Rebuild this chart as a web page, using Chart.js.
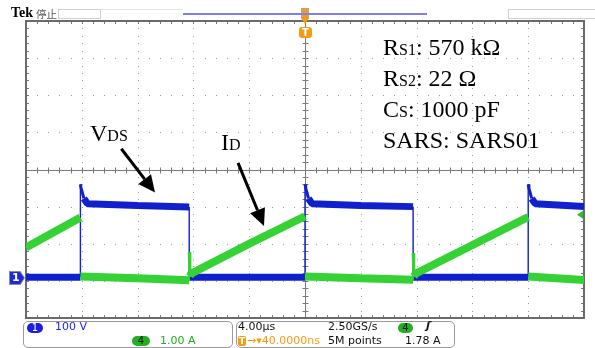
<!DOCTYPE html>
<html><head><meta charset="utf-8">
<script src="https://cdn.jsdelivr.net/npm/chart.js@4/dist/chart.umd.min.js"></script>
<style>
html,body{margin:0;padding:0;background:#fff;}
#wrap{position:relative;width:595px;height:348px;overflow:hidden;background:#fff;}
canvas{position:absolute;left:0;top:0;}
.t{position:absolute;white-space:nowrap;}
.serif{font-family:"Liberation Serif","Times New Roman",serif;color:#000;font-size:24px;line-height:28px;}
.sub{font-size:16px;}
.osc{font-family:"DejaVu Sans",sans-serif;font-size:11px;line-height:12px;color:#111;}
.box{position:absolute;border:1px solid #9a9a9a;border-radius:5px;box-sizing:border-box;}
.pill{position:absolute;border-radius:6px;text-align:center;font-family:"DejaVu Sans",sans-serif;font-size:10px;line-height:10px;}
</style></head>
<body>
<div id="wrap">
<canvas id="c" width="595" height="348"></canvas>

<!-- header -->
<div class="t" style="left:11px;top:5px;font-family:'Liberation Serif',serif;font-weight:bold;font-size:14px;line-height:16px;">Tek</div>
<div class="t" style="left:36px;top:7px;font-family:'Noto Sans CJK SC',sans-serif;font-size:10.5px;line-height:13px;color:#555;">停止</div>
<div style="position:absolute;left:58px;top:9px;width:43px;height:10px;border:1px solid #d0d0d0;box-sizing:border-box;"></div>
<div style="position:absolute;left:101px;top:9px;width:82px;height:10px;border-top:1px solid #e4e4e4;box-sizing:border-box;"></div>
<div style="position:absolute;left:508px;top:9px;width:95px;height:10px;border:1px solid #d0d0d0;box-sizing:border-box;"></div>
<div style="position:absolute;left:183px;top:13px;width:244px;height:2px;background:#7f80ee;"></div>

<!-- trigger T marker -->
<div class="t" style="left:299px;top:27px;width:13px;height:11px;background:#f59b12;border-radius:3px;color:#fff;font:bold 10px/11px 'DejaVu Sans',sans-serif;text-align:center;">T</div>

<!-- channel 1 ground marker -->
<div class="t" style="left:9px;top:271px;width:16px;height:14px;background:#8a8aa0;clip-path:polygon(0 0,72% 0,100% 50%,72% 100%,0 100%);"></div>
<div class="t" style="left:10px;top:272px;width:14px;height:12px;background:#1c2ad8;clip-path:polygon(0 0,70% 0,100% 50%,70% 100%,0 100%);color:#fff;font:bold 11px/12px 'DejaVu Sans',sans-serif;text-indent:2px;">1</div>

<!-- parameter annotation -->
<div class="t serif" style="left:383px;top:33px;">
R<span class="sub">S1</span>: 570 kΩ<br>
R<span class="sub">S2</span>: 22 Ω<br>
C<span class="sub">S</span>: 1000 pF<br>
SARS: SARS01
</div>
<div class="t serif" style="left:90px;top:119px;">V<span class="sub">DS</span></div>
<div class="t serif" style="left:221px;top:128px;">I<span class="sub">D</span></div>

<!-- status bar -->
<div class="box" style="left:23px;top:321px;width:210px;height:27px;"></div>
<div class="box" style="left:236px;top:321px;width:219px;height:27px;"></div>
<div class="pill" style="left:27px;top:323px;width:16px;height:10px;background:#1c1ce0;color:#fff;">1</div>
<div class="t osc" style="left:55px;top:321px;color:#2424ee;">100 V</div>
<div class="pill" style="left:132px;top:336px;width:18px;height:10px;background:#22b022;color:#111;">4</div>
<div class="t osc" style="left:160px;top:335px;color:#1fae1f;">1.00 A</div>
<div class="t osc" style="left:238px;top:321px;">4.00µs</div>
<div class="t osc" style="left:328px;top:321px;">2.50GS/s</div>
<div class="pill" style="left:398px;top:323px;width:15px;height:10px;background:#22b022;color:#111;">4</div>
<div class="t osc" style="left:426px;top:320px;font-weight:bold;font-style:italic;">ʃ</div>
<div class="t" style="left:238px;top:336px;width:8px;height:10px;background:#f59b12;border-radius:2px;color:#fff;font:bold 9px/10px 'DejaVu Sans',sans-serif;text-align:center;">T</div>
<div class="t osc" style="left:247px;top:335px;color:#f59b12;">→▾40.0000ns</div>
<div class="t osc" style="left:328px;top:335px;">5M points</div>
<div class="t osc" style="left:405px;top:335px;">1.78 A</div>
</div>

<script>
// ---- scope settings ----
const TIME_PER_DIV_US = 4;      // 4.00 µs/div
const CH1_VOLTS_PER_DIV = 100;  // 100 V/div
const CH1_OFFSET_DIV = -2.9;    // CH1 ground marker position
const CH4_AMPS_PER_DIV = 1;     // 1.00 A/div
const CH4_OFFSET_DIV = -3.0;
const TRIGGER_LEVEL_A = 1.78;

// ---- CH1: V_DS (V) ----
const vdsTime  = [-20, -16.1, -16.1, -16.05, -15.85, -15.6, -12, -8.3, -8.3, -4, 0, 0, 0.05, 0.25, 0.5, 4, 7.75, 7.75, 12, 16.0, 16.0, 16.05, 16.25, 16.5, 20];
const vdsVolts = [0, 0, 250, 240, 212, 198, 193, 189, 0, 0, 0, 250, 240, 212, 198, 193, 190, 0, 0, 0, 250, 240, 212, 198, 190];

// ---- CH4: I_D (A) ----
const idTime = [-20, -16.1, -16.1, -12, -8.3, -8.3, -8.25, -8.15, -4, 0, 0, 4, 7.75, 7.75, 7.8, 7.95, 16.0, 16.0, 20];
const idAmps = [0.90, 1.71, 0.12, 0.07, 0.02, 0.78, 0.12, 0.20, 1.0, 1.74, 0.12, 0.07, 0.03, 0.75, 0.12, 0.20, 1.72, 0.12, 0.02];

const toXY = (xs, ys) => xs.map((x, i) => ({x, y: ys[i]}));
// steep edges are thin, noisy flat/ramp parts are a thick band
const bandWidth = w => c => {
  const dx = Math.abs(c.p1.x - c.p0.x), dy = Math.abs(c.p1.y - c.p0.y);
  if (dx < 0.01) return 1.4;
  return dy / dx > 3 ? 3 : w;
};
// falling current edges are hidden behind the V_DS edge
const idEdgeColor = base => c =>
  (Math.abs(c.p1.x - c.p0.x) < 0.01 && c.p1.y > c.p0.y) ? 'rgba(0,0,0,0)' : base;

const graticule = {
  id: 'graticule',
  beforeDatasetsDraw(chart) {
    const {ctx, chartArea: a} = chart;
    const dx = (a.right - a.left) / 10, dy = (a.bottom - a.top) / 8;
    ctx.save();
    ctx.fillStyle = '#9c9c9c';
    for (let i = 1; i < 10; i++) {
      if (i === 5) continue;
      const x = Math.round(a.left + i * dx);
      for (let k = 1; k < 40; k++) ctx.fillRect(x, Math.round(a.top + k * dy / 5), 1, 1);
    }
    for (let j = 1; j < 8; j++) {
      if (j === 4) continue;
      const y = Math.round(a.top + j * dy);
      for (let k = 1; k < 50; k++) ctx.fillRect(Math.round(a.left + k * dx / 5), y, 1, 1);
    }
    const cx = Math.round((a.left + a.right) / 2) + 0.5, cy = Math.round((a.top + a.bottom) / 2) + 0.5;
    ctx.strokeStyle = '#7a7a7a';
    ctx.lineWidth = 1;
    ctx.beginPath();
    ctx.moveTo(a.left, cy); ctx.lineTo(a.right, cy);
    ctx.moveTo(cx, a.top); ctx.lineTo(cx, a.bottom);
    for (let k = 1; k < 50; k++) {
      const x = Math.round(a.left + k * dx / 5) + 0.5;
      ctx.moveTo(x, cy - 3); ctx.lineTo(x, cy + 3);
      ctx.moveTo(x, a.top); ctx.lineTo(x, a.top + 3);
      ctx.moveTo(x, a.bottom); ctx.lineTo(x, a.bottom - 3);
    }
    for (let k = 1; k < 40; k++) {
      const y = Math.round(a.top + k * dy / 5) + 0.5;
      ctx.moveTo(cx - 3, y); ctx.lineTo(cx + 3, y);
      ctx.moveTo(a.left, y); ctx.lineTo(a.left + 3, y);
      ctx.moveTo(a.right, y); ctx.lineTo(a.right - 3, y);
    }
    ctx.stroke();
    ctx.strokeStyle = '#6a6a6a';
    ctx.lineWidth = 2;
    ctx.strokeRect(a.left, a.top, a.right - a.left, a.bottom - a.top);
    ctx.restore();
  },
  afterDatasetsDraw(chart) {
    const {ctx} = chart;
    const xs = chart.scales.x, yd = chart.scales.yDiv, ya = chart.scales.yA;
    const arrow = (t0, d0, t1, d1) => {
      const x0 = xs.getPixelForValue(t0), y0 = yd.getPixelForValue(d0);
      const x1 = xs.getPixelForValue(t1), y1 = yd.getPixelForValue(d1);
      const ang = Math.atan2(y1 - y0, x1 - x0), L = 17, W = 8;
      const bx = x1 - L * Math.cos(ang), by = y1 - L * Math.sin(ang);
      ctx.save();
      ctx.strokeStyle = '#000'; ctx.fillStyle = '#000'; ctx.lineWidth = 3;
      ctx.beginPath(); ctx.moveTo(x0, y0); ctx.lineTo(bx, by); ctx.stroke();
      ctx.beginPath();
      ctx.moveTo(x1, y1);
      ctx.lineTo(bx + W * Math.sin(ang), by - W * Math.cos(ang));
      ctx.lineTo(bx - W * Math.sin(ang), by + W * Math.cos(ang));
      ctx.closePath(); ctx.fill();
      ctx.restore();
    };
    arrow(-13.17, 0.56, -10.75, -0.62);   // V_DS label arrow
    arrow(-4.8, 0.18, -2.94, -1.52);      // I_D label arrow
    // trigger level marker (CH4)
    const a = chart.chartArea;
    const ty = ya.getPixelForValue(TRIGGER_LEVEL_A);
    ctx.save();
    ctx.fillStyle = '#2cc02c';
    ctx.beginPath();
    ctx.moveTo(a.right - 7, ty); ctx.lineTo(a.right - 1, ty - 4); ctx.lineTo(a.right - 1, ty + 4);
    ctx.closePath(); ctx.fill();
    // trigger position marker at top
    const tx = Math.round(xs.getPixelForValue(0));
    ctx.fillStyle = '#c9a070';
    ctx.fillRect(tx - 4, 8, 8, 11);
    ctx.fillStyle = '#f59b12';
    ctx.fillRect(tx - 2, 9, 4, 9);
    ctx.beginPath();
    ctx.moveTo(tx - 4, 18); ctx.lineTo(tx + 4, 18); ctx.lineTo(tx, 24); ctx.closePath(); ctx.fill();
    ctx.restore();
  }
};

new Chart(document.getElementById('c'), {
  type: 'line',
  data: {
    datasets: [
      {
        label: 'I_D',
        data: toXY(idTime, idAmps),
        yAxisID: 'yA',
        borderColor: '#34d234',
        borderWidth: 8,
        segment: {borderWidth: bandWidth(8), borderColor: idEdgeColor('#34d234')},
        borderJoinStyle: 'bevel',
        pointRadius: 0,
        tension: 0,
        order: 0
      },
      {
        label: 'V_DS',
        data: toXY(vdsTime, vdsVolts),
        yAxisID: 'yV',
        borderColor: '#1020cc',
        borderWidth: 7,
        segment: {borderWidth: bandWidth(7)},
        borderJoinStyle: 'bevel',
        pointRadius: 0,
        tension: 0,
        order: 1
      }
    ]
  },
  options: {
    responsive: false,
    animation: false,
    events: [],
    layout: {padding: {left: 26, top: 21, right: 11, bottom: 30}},
    plugins: {legend: {display: false}, tooltip: {enabled: false}},
    scales: {
      x: {type: 'linear', display: false, min: -5 * TIME_PER_DIV_US, max: 5 * TIME_PER_DIV_US},
      yV: {type: 'linear', display: false,
           min: (-4 - CH1_OFFSET_DIV) * CH1_VOLTS_PER_DIV, max: (4 - CH1_OFFSET_DIV) * CH1_VOLTS_PER_DIV},
      yA: {type: 'linear', display: false,
           min: (-4 - CH4_OFFSET_DIV) * CH4_AMPS_PER_DIV, max: (4 - CH4_OFFSET_DIV) * CH4_AMPS_PER_DIV},
      yDiv: {type: 'linear', display: false, min: -4, max: 4}
    }
  },
  plugins: [graticule]
});
</script>
</body></html>
